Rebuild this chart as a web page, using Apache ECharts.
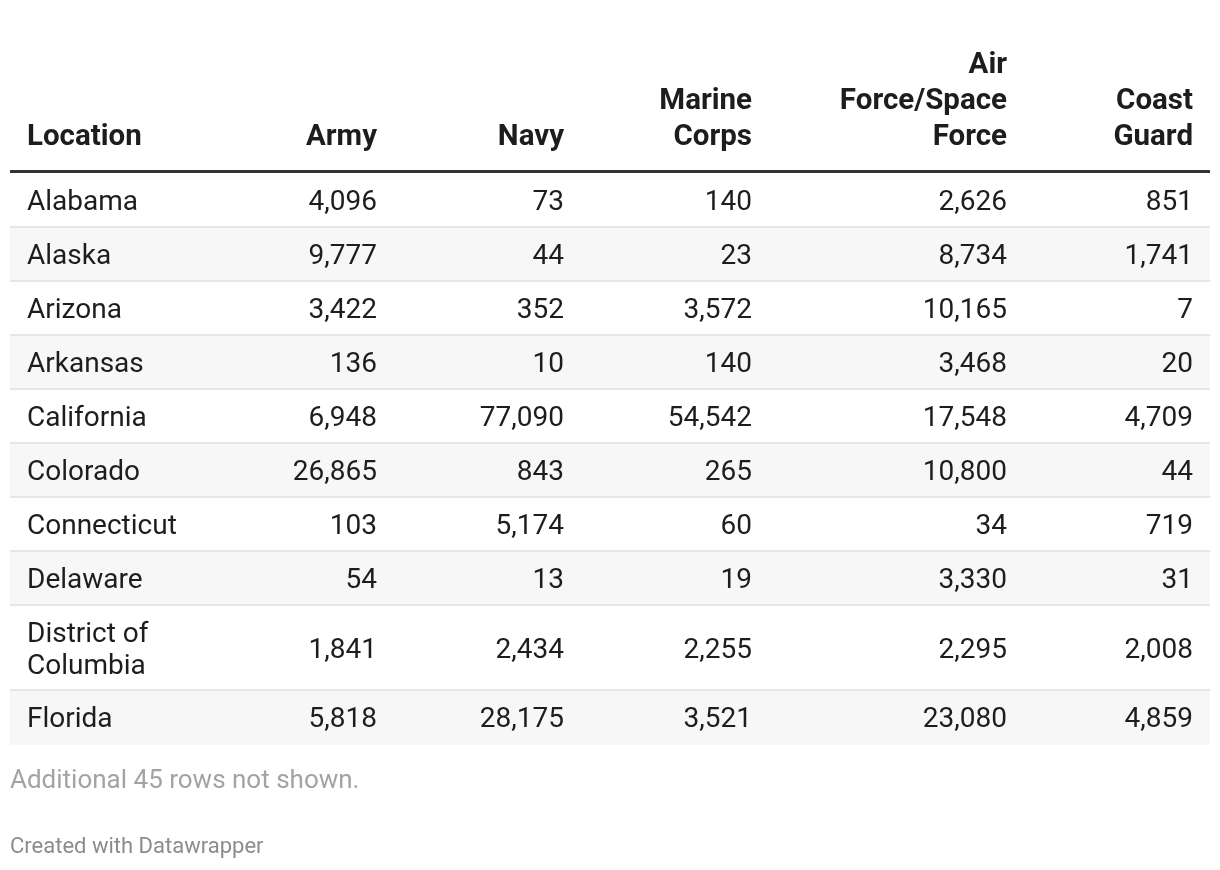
<!DOCTYPE html>
<html><head><meta charset="utf-8">
<script src="https://cdn.jsdelivr.net/npm/echarts@6/dist/echarts.min.js"></script>
<style>html,body{margin:0;padding:0;background:#fff}#chart{width:1220px;height:870px}</style>
</head><body><div id="chart"></div>
<script>
// ---- data ----
const headers = ['Location', 'Army', 'Navy', 'Marine\nCorps', 'Air\nForce/Space\nForce', 'Coast\nGuard'];
const locations = ['Alabama','Alaska','Arizona','Arkansas','California','Colorado','Connecticut','Delaware','District of Columbia','Florida'];
const army       = [4096, 9777, 3422, 136, 6948, 26865, 103, 54, 1841, 5818];
const navy       = [73, 44, 352, 10, 77090, 843, 5174, 13, 2434, 28175];
const marine     = [140, 23, 3572, 140, 54542, 265, 60, 19, 2255, 3521];
const airForce   = [2626, 8734, 10165, 3468, 17548, 10800, 34, 3330, 2295, 23080];
const coastGuard = [851, 1741, 7, 20, 4709, 44, 719, 31, 2008, 4859];
const noteText = 'Additional 45 rows not shown.';
const creditText = 'Created with Datawrapper';

// ---- layout / style ----
const FONT = 'Roboto, "Noto Sans", sans-serif';
const BODY_SIZE = 28;
const HEAD_SIZE = 29.5;
const LINE_H = 31;
const ROW_PAD = 23;
const TABLE_L = 10, TABLE_R = 1210;
const LOC_X = 27, LOC_WRAP = 200;
const colRight = [null, 377, 564, 752, 1007, 1193];
const HEADER_BOTTOM = 156, HEADER_LINE_H = 36;
const HEADER_RULE_Y = 171.5;
const BODY_TOP = 174;
const TEXT_SHIFT = 2;

const valueCols = [army, navy, marine, airForce, coastGuard];
const fmt = v => v.toLocaleString('en-US');

// wrap location names to the column width
const ctx = document.createElement('canvas').getContext('2d');
ctx.font = BODY_SIZE + 'px ' + FONT;
function wrap(text, w) {
  const words = text.split(' ');
  const lines = [];
  let cur = '';
  words.forEach(wd => {
    const t = cur ? cur + ' ' + wd : wd;
    if (cur && ctx.measureText(t).width > w) { lines.push(cur); cur = wd; }
    else cur = t;
  });
  if (cur) lines.push(cur);
  return lines;
}
const locLines = locations.map(l => wrap(l, LOC_WRAP));
const rowTop = [], rowBottom = [];
let yCursor = BODY_TOP;
locLines.forEach((ls, i) => {
  rowTop.push(yCursor);
  yCursor += ROW_PAD + LINE_H * ls.length;
  rowBottom.push(yCursor);
});

const chart = echarts.init(document.getElementById('chart'), null, {renderer: 'canvas'});

function bodyRow(params, api) {
  const i = api.value(0);
  const tl = api.coord([TABLE_L, rowTop[i]]);
  const br = api.coord([TABLE_R, rowBottom[i]]);
  const midY = (tl[1] + br[1]) / 2 + TEXT_SHIFT;
  const children = [];
  if (i % 2 === 1) {
    children.push({type: 'rect', shape: {x: tl[0], y: tl[1], width: br[0] - tl[0], height: br[1] - tl[1]}, style: {fill: '#f7f7f7'}});
  }
  if (i < locations.length - 1) {
    children.push({type: 'line', shape: {x1: tl[0], y1: br[1] - 1, x2: br[0], y2: br[1] - 1}, style: {stroke: '#e6e6e6', lineWidth: 2}});
  }
  const lx = api.coord([LOC_X, 0])[0];
  children.push({type: 'text', style: {
    text: locLines[i].join('\n'), x: lx, y: midY, textAlign: 'left', textVerticalAlign: 'middle',
    fontSize: BODY_SIZE, fontFamily: FONT, lineHeight: LINE_H + 1, fill: '#1d1d1d'}});
  valueCols.forEach((col, c) => {
    const x = api.coord([colRight[c + 1], 0])[0];
    children.push({type: 'text', style: {
      text: fmt(col[i]), x: x, y: midY, textAlign: 'right', textVerticalAlign: 'middle',
      fontSize: BODY_SIZE, fontFamily: FONT, fill: '#1d1d1d'}});
  });
  return {type: 'group', children};
}

function headerRow(params, api) {
  const children = [];
  const l = api.coord([TABLE_L, HEADER_RULE_Y]);
  const r = api.coord([TABLE_R, HEADER_RULE_Y]);
  children.push({type: 'line', shape: {x1: l[0], y1: l[1], x2: r[0], y2: r[1]}, style: {stroke: '#333333', lineWidth: 3}});
  const by = api.coord([0, HEADER_BOTTOM])[1];
  headers.forEach((h, c) => {
    const x = c === 0 ? api.coord([LOC_X, 0])[0] : api.coord([colRight[c], 0])[0];
    children.push({type: 'text', style: {
      text: h, x: x, y: by, textAlign: c === 0 ? 'left' : 'right', textVerticalAlign: 'bottom',
      fontSize: HEAD_SIZE, fontWeight: 'bold', fontFamily: FONT, lineHeight: HEADER_LINE_H, fill: '#1d1d1d'}});
  });
  return {type: 'group', children};
}

chart.setOption({
  animation: false,
  backgroundColor: '#ffffff',
  grid: {left: 0, right: 0, top: 0, bottom: 0},
  xAxis: {type: 'value', min: 0, max: 1220, show: false},
  yAxis: {type: 'value', min: 0, max: 870, inverse: true, show: false},
  series: [
    {type: 'custom', renderItem: bodyRow, data: locations.map((_, i) => [i]), silent: true, clip: false},
    {type: 'custom', renderItem: headerRow, data: [[0]], silent: true, clip: false}
  ],
  graphic: [
    {type: 'text', left: 10, top: 768, style: {text: noteText, fontSize: 26, fontFamily: FONT, fill: '#a3a3a3'}},
    {type: 'text', left: 10, top: 836, style: {text: creditText, fontSize: 22, fontFamily: FONT, fill: '#8c8c8c'}}
  ]
});
</script></body></html>
